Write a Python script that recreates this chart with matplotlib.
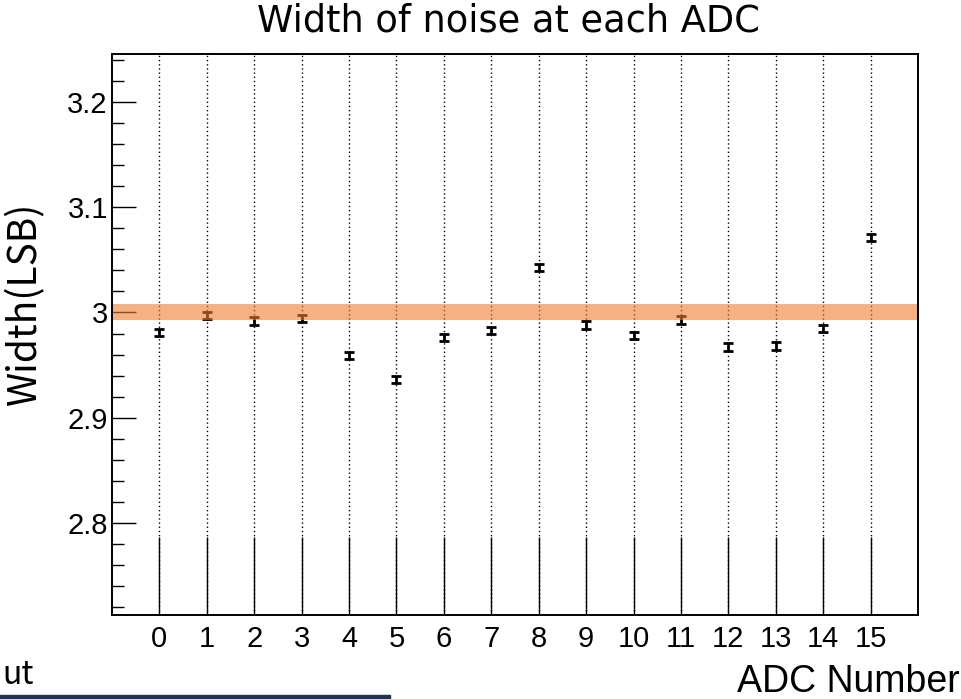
import matplotlib
matplotlib.use("Agg")
import matplotlib.pyplot as plt
from matplotlib.patches import Rectangle
from matplotlib.ticker import MultipleLocator

adc = list(range(16))
width = [2.981, 2.997, 2.992, 2.994, 2.959, 2.936, 2.976, 2.983,
         3.043, 2.988, 2.978, 2.993, 2.967, 2.968, 2.985, 3.071]
err = [0.0035] * 16
band_lo, band_hi = 2.9925, 3.0085
tick_labels = [str(i) for i in adc]

W, H = 961, 699
fig = plt.figure(figsize=(W / 100, H / 100), dpi=100)
ax = fig.add_axes([112 / W, 1 - 615 / H, (918 - 112) / W, (615 - 54) / H])

ax.errorbar(adc, width, yerr=err, fmt="none", ecolor="black", elinewidth=2.0,
            capsize=3.5, capthick=2.0, zorder=3)
ax.axhspan(band_lo, band_hi, color="#ED7D31", alpha=0.6, lw=0, zorder=4)

ax.set_xlim(-1, 16)
ax.set_ylim(2.7124, 3.2457)
ax.set_xticks(adc)
ax.set_xticklabels(tick_labels)
ax.yaxis.set_minor_locator(MultipleLocator(0.02))
ax.set_yticks([2.8, 2.9, 3.0, 3.1, 3.2])
ax.set_yticklabels(["2.8", "2.9", "3", "3.1", "3.2"])

for x in adc:
    ax.axvline(x, color="black", ls=(0, (1, 2)), lw=1.0, zorder=1)

ax.tick_params(axis="x", direction="in", length=56, width=1.0, top=False,
               labelsize=21, pad=7)
ax.tick_params(axis="y", which="major", direction="in", length=17, width=1.0,
               right=False, labelsize=21, pad=3)
ax.tick_params(axis="y", which="minor", direction="in", length=8.6, width=1.0,
               right=False)
for lab in ax.get_xticklabels() + ax.get_yticklabels():
    lab.set_fontfamily("Liberation Sans")
for s in ax.spines.values():
    s.set_linewidth(1.4)
    s.set_zorder(5)

fig.text(0.529, 1 - 32 / H, "Width of noise at each ADC", ha="center",
         va="baseline", fontsize=26.5, family="DejaVu Sans")
fig.text(0.026, 0.566, "Width(LSB)", ha="center", va="center", rotation=90,
         fontsize=28, family=["Noto Sans CJK JP", "DejaVu Sans"])
fig.text(0.999, 1 - 692 / H, "ADC Number", ha="right", va="baseline",
         fontsize=27, family="Liberation Sans")
fig.text(0.002, 1 - 684 / H, "ut", ha="left", va="baseline", fontsize=23,
         family=["Noto Sans CJK JP", "DejaVu Sans"])
fig.patches.append(Rectangle((0, 0), 390 / W, 4 / H, transform=fig.transFigure,
                             color="#1F3355", figure=fig))

fig.savefig("out.png", dpi=100)
